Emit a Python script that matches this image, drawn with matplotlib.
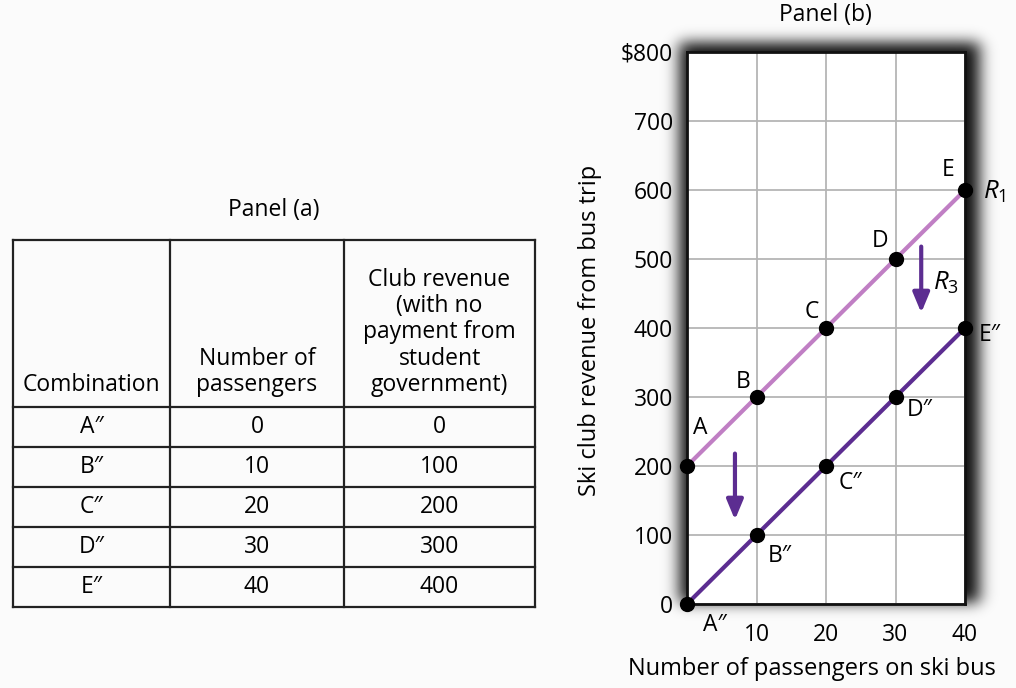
import math
import numpy as np
import matplotlib.pyplot as plt

plt.rcParams['font.family'] = ['Open Sans', 'DejaVu Sans']
plt.rcParams['mathtext.fontset'] = 'custom'
plt.rcParams['mathtext.it'] = 'Open Sans:italic'
plt.rcParams['mathtext.rm'] = 'Open Sans'

# table data (panel a)
combos = ['A″', 'B″', 'C″', 'D″', 'E″']
passengers = [0, 10, 20, 30, 40]
revenue = [0, 100, 200, 300, 400]
headers = ['Combination', 'Number of\npassengers',
           'Club revenue\n(with no\npayment from\nstudent\ngovernment)']

# chart data (panel b)
r1_labels = ['A', 'B', 'C', 'D', 'E']
r1_rev = [200, 300, 400, 500, 600]
yticks = [0, 100, 200, 300, 400, 500, 600, 700, 800]
ytick_labels = ['0', '100', '200', '300', '400', '500', '600', '700', '$800']
xticks = [10, 20, 30, 40]

FS = 16.5
W, H = 1016, 688
fig = plt.figure(figsize=(W / 100, H / 100), dpi=100)
fig.patch.set_facecolor('#fbfbfb')

def fx(px):
    return px / W

def fy(py):
    return 1 - py / H

# ---------- Panel (a): table ----------
tab = fig.add_axes([0, 0, 1, 1], zorder=-5)
tab.set_xlim(0, W)
tab.set_ylim(H, 0)
tab.axis('off')

cols = [13, 170, 344, 535]
rows = [240, 407, 447, 487, 527, 567, 607]
for x in cols:
    tab.plot([x, x], [rows[0], rows[-1]], color='#222222', lw=1.6)
for y in rows:
    tab.plot([cols[0], cols[-1]], [y, y], color='#222222', lw=1.6)

tab.text((cols[0] + cols[-1]) / 2, 210, 'Panel (a)', ha='center', va='center', fontsize=FS)
for i, h in enumerate(headers):
    cx = (cols[i] + cols[i + 1]) / 2
    tab.text(cx, rows[1] - 10, h, ha='center', va='bottom', fontsize=FS, linespacing=1.13)

for j in range(len(combos)):
    cy = (rows[j + 1] + rows[j + 2]) / 2
    vals = [combos[j], str(passengers[j]), str(revenue[j])]
    for i, v in enumerate(vals):
        cx = (cols[i] + cols[i + 1]) / 2
        tab.text(cx, cy, v, ha='center', va='center', fontsize=FS)

# ---------- Panel (b): chart ----------
left, right, top, bottom = 687, 965, 52, 604

# blurred shadow around the plot area, heavier at top and right
erf = np.vectorize(math.erf)

def soft(coord, lo, hi, s):
    return 0.5 * (erf((coord - lo) / s) - erf((coord - hi) / s))

sx = soft(np.arange(W), left - 8, right + 14, 11)
sy = soft(np.arange(H), top - 10, bottom - 2, 10)
shadow = np.zeros((H, W, 4))
shadow[..., 3] = 0.95 * np.outer(sy, sx)
fig.figimage(shadow, 0, 0, zorder=-1)

ax = fig.add_axes([fx(left), fy(bottom), fx(right - left), (bottom - top) / H])
ax.set_facecolor('white')
ax.set_xlim(0, 40)
ax.set_ylim(0, 800)

ax.set_xticks(xticks)
ax.set_yticks(yticks)
ax.set_yticklabels(ytick_labels)
ax.grid(True, color='#b5b5b5', lw=1.3)
ax.set_axisbelow(True)
ax.tick_params(length=0, labelsize=FS)
ax.tick_params(axis='y', pad=10)
ax.tick_params(axis='x', pad=14)
for s in ax.spines.values():
    s.set_linewidth(2)
    s.set_color('#111111')

ax.plot(passengers, r1_rev, color='#c07fc4', lw=3, zorder=3, clip_on=False)
ax.plot(passengers, revenue, color='#5c2d91', lw=3, zorder=3, clip_on=False)
ax.plot(passengers, r1_rev, 'o', color='black', ms=10, zorder=4, clip_on=False)
ax.plot(passengers, revenue, 'o', color='black', ms=10, zorder=4, clip_on=False)

# point labels
lab_r1 = [(1.9, 255), (8.1, 322), (18, 423), (27.8, 526), (37.6, 629)]
for t, (x, y) in zip(r1_labels, lab_r1):
    ax.text(x, y, t, ha='center', va='center', fontsize=FS)
lab_r3 = [(4.0, -30), (13.4, 70), (23.5, 175), (33.5, 281), (43.6, 390)]
for t, (x, y) in zip(combos, lab_r3):
    ax.text(x, y, t, ha='center', va='center', fontsize=FS, clip_on=False)

ax.text(44.3, 597, '$R_1$', ha='center', va='center', fontsize=FS + 2)
ax.text(37.2, 466, '$R_3$', ha='center', va='center', fontsize=FS + 2)

# shift arrows
for x0, y0, y1 in [(6.9, 218, 122), (33.7, 518, 422)]:
    ax.annotate('', xy=(x0, y1), xytext=(x0, y0),
                arrowprops=dict(arrowstyle='-|>,head_width=0.5,head_length=1.2',
                                color='#5c2d91', lw=3, shrinkA=0, shrinkB=0))

fig.text(fx(825), fy(15), 'Panel (b)', ha='center', va='center', fontsize=FS)
fig.text(fx(812), fy(669), 'Number of passengers on ski bus', ha='center', va='center', fontsize=FS + 0.5)
fig.text(fx(590), fy(330), 'Ski club revenue from bus trip', ha='center', va='center',
         rotation=90, fontsize=FS + 0.5)

fig.savefig('out.png', dpi=100, facecolor=fig.get_facecolor())
